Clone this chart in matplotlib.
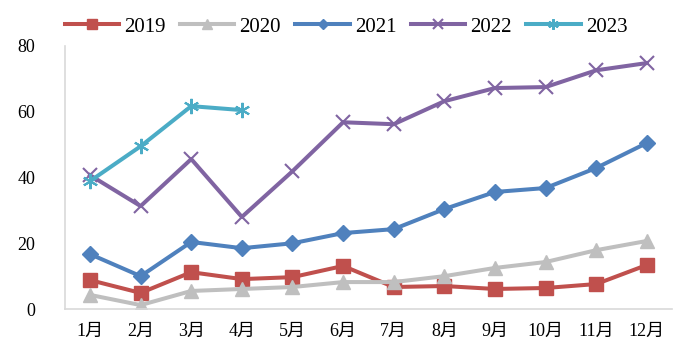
import matplotlib
matplotlib.use('Agg')
import matplotlib.pyplot as plt

plt.rcParams['font.family'] = ['Liberation Serif', 'Noto Sans CJK SC']

months = ['1月', '2月', '3月', '4月', '5月', '6月', '7月', '8月', '9月', '10月', '11月', '12月']

y2019 = [8.8, 4.9, 11.2, 9.1, 9.7, 13.1, 6.7, 7.0, 6.1, 6.4, 7.6, 13.4]
y2020 = [4.3, 1.2, 5.5, 6.1, 6.7, 8.2, 8.2, 10.0, 12.5, 14.3, 17.9, 20.7]
y2021 = [16.7, 10.0, 20.4, 18.5, 20.0, 23.1, 24.3, 30.4, 35.6, 36.8, 42.9, 50.5]
y2022 = [40.7, 31.3, 45.6, 28.0, 41.9, 56.8, 56.2, 63.2, 67.2, 67.5, 72.6, 74.8]
y2023 = [38.9, 49.5, 61.7, 60.5]

fig = plt.figure(figsize=(6.81, 3.43), dpi=100)
ax = fig.add_axes([0.095, 0.099, 0.892, 0.767])

x = list(range(12))
lw = 2.9
ax.plot(x, y2019, color='#C0504D', lw=lw, marker='s', ms=10, label='2019')
ax.plot(x, y2020, color='#BFBFBF', lw=lw, marker='^', ms=10, label='2020')
ax.plot(x, y2021, color='#4F81BD', lw=lw, marker='D', ms=8, label='2021')
ax.plot(x, y2022, color='#8064A2', lw=lw, marker='x', ms=10, mew=1.5, label='2022')
ax.plot(x[:4], y2023, color='#4BACC6', lw=lw, marker=(6, 2, 0), ms=11, mew=1.5, label='2023')

ax.set_xlim(-0.5, 11.5)
ax.set_ylim(0, 80)
ax.set_yticks([0, 20, 40, 60, 80])
ax.set_xticks(x)
ax.set_xticklabels(months)
ax.tick_params(length=0, labelsize=13, colors='black')
ax.tick_params(axis='y', pad=21)
ax.tick_params(axis='x', pad=10)
for s in ['top', 'right']:
    ax.spines[s].set_visible(False)
for s in ['left', 'bottom']:
    ax.spines[s].set_color('#D9D9D9')
    ax.spines[s].set_linewidth(1.2)

fig.legend(loc='upper center', bbox_to_anchor=(0.508, 1.005), ncol=5, frameon=False,
           fontsize=15, handlelength=2.6, columnspacing=0.7, handletextpad=0.25,
           markerscale=0.7)

fig.savefig('out.png', dpi=100)
